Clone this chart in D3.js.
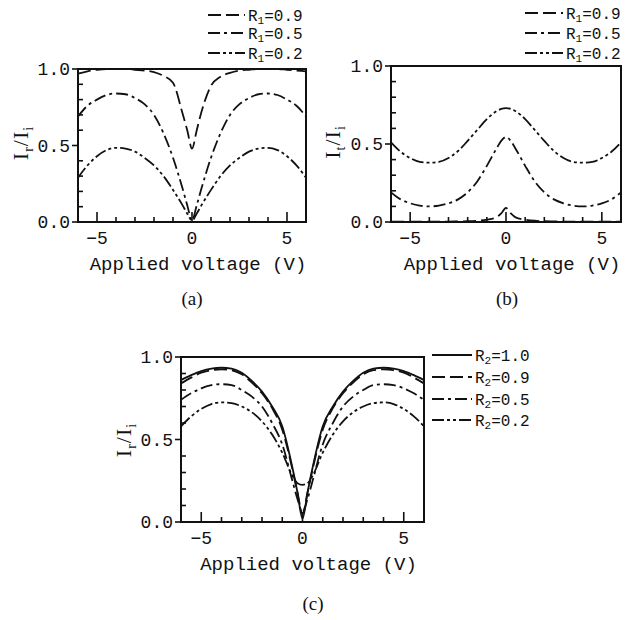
<!DOCTYPE html>
<html>
<head>
<meta charset="utf-8">
<script src="https://cdn.jsdelivr.net/npm/d3@7"></script>
<style>
  body { margin: 0; background: #fff; }
  svg { display: block; }
  .tick-label { font-family: "Liberation Mono", "DejaVu Sans Mono", monospace; font-size: 18px; fill: #111; }
  .axis-title { font-family: "Liberation Mono", "DejaVu Sans Mono", monospace; font-size: 19px; fill: #111; }
  .legend-text { font-family: "Liberation Mono", "DejaVu Sans Mono", monospace; font-size: 16px; fill: #111; }
  .ylab { font-family: "Liberation Serif", "DejaVu Serif", serif; font-size: 22px; fill: #111; letter-spacing: 1px; }
  .caption { font-family: "Liberation Serif", "DejaVu Serif", serif; font-size: 19px; fill: #111; }
</style>
</head>
<body>
<div id="chart"></div>
<script>
var width = 635;
var height = 620;

// Applied voltage sample points (V), shared by every curve
var volts = [-6, -5.5, -5, -4.5, -4, -3.5, -3, -2.5, -2, -1.5, -1, -0.5, -0.25, 0,
             0.25, 0.5, 1, 1.5, 2, 2.5, 3, 3.5, 4, 4.5, 5, 5.5, 6];

// (a) reflected intensity Ir/Ii
var refA_R09 = [0.97, 0.985, 0.995, 1.0, 1.0, 1.0, 0.995, 0.99, 0.98, 0.955, 0.91, 0.71, 0.60, 0.48,
                0.60, 0.72, 0.89, 0.95, 0.975, 0.99, 0.995, 1.0, 1.0, 1.0, 0.995, 0.99, 0.985];
var refA_R05 = [0.69, 0.76, 0.80, 0.83, 0.84, 0.835, 0.81, 0.77, 0.70, 0.58, 0.42, 0.22, 0.11, 0.01,
                0.11, 0.22, 0.42, 0.58, 0.70, 0.77, 0.81, 0.835, 0.84, 0.83, 0.80, 0.76, 0.69];
var refA_R02 = [0.29, 0.37, 0.43, 0.47, 0.485, 0.48, 0.46, 0.42, 0.37, 0.30, 0.21, 0.11, 0.055, 0.01,
                0.055, 0.11, 0.21, 0.30, 0.37, 0.42, 0.46, 0.48, 0.485, 0.47, 0.43, 0.37, 0.29];

// (b) transmitted intensity It/Ii
var tranB_R09 = [0.003, 0.003, 0.003, 0.003, 0.003, 0.003, 0.003, 0.004, 0.005, 0.008, 0.015, 0.03, 0.055, 0.09,
                 0.055, 0.03, 0.015, 0.008, 0.005, 0.004, 0.003, 0.003, 0.003, 0.003, 0.003, 0.003, 0.003];
var tranB_R05 = [0.19, 0.145, 0.12, 0.105, 0.10, 0.105, 0.12, 0.145, 0.19, 0.26, 0.36, 0.47, 0.52, 0.545,
                 0.52, 0.47, 0.36, 0.26, 0.19, 0.145, 0.12, 0.105, 0.10, 0.105, 0.12, 0.145, 0.19];
var tranB_R02 = [0.51, 0.45, 0.41, 0.385, 0.38, 0.385, 0.41, 0.455, 0.52, 0.59, 0.66, 0.71, 0.725, 0.73,
                 0.725, 0.71, 0.66, 0.59, 0.52, 0.455, 0.41, 0.385, 0.38, 0.385, 0.41, 0.45, 0.51];

// (c) reflected intensity for different back mirrors
var refC_R10 = [0.86, 0.89, 0.915, 0.93, 0.935, 0.93, 0.905, 0.855, 0.79, 0.70, 0.58, 0.33, 0.18, 0.02,
                0.18, 0.33, 0.58, 0.70, 0.79, 0.855, 0.905, 0.93, 0.935, 0.93, 0.915, 0.89, 0.86];
var refC_R09 = [0.84, 0.875, 0.905, 0.92, 0.925, 0.92, 0.895, 0.845, 0.78, 0.69, 0.56, 0.32, 0.18, 0.05,
                0.18, 0.32, 0.56, 0.69, 0.78, 0.845, 0.895, 0.92, 0.925, 0.92, 0.905, 0.875, 0.84];
var refC_R05 = [0.74, 0.78, 0.81, 0.83, 0.835, 0.83, 0.80, 0.76, 0.70, 0.60, 0.47, 0.25, 0.14, 0.06,
                0.14, 0.25, 0.47, 0.60, 0.70, 0.76, 0.80, 0.83, 0.835, 0.83, 0.81, 0.78, 0.74];
var refC_R02 = [0.58, 0.64, 0.685, 0.715, 0.725, 0.72, 0.70, 0.665, 0.61, 0.53, 0.42, 0.28, 0.235, 0.225,
                0.235, 0.28, 0.42, 0.53, 0.61, 0.665, 0.70, 0.72, 0.725, 0.715, 0.685, 0.64, 0.58];

var legendA = ["0.9", "0.5", "0.2"];
var legendC = ["1.0", "0.9", "0.5", "0.2"];

var xTickMajor = [-5, 0, 5];
var yTickMajor = [0, 0.5, 1.0];

// line styles
var dashes = {
  solid: null,
  longDash: "13,5",
  dashDot: "12,4,3,4",
  dashDotDot: "12,3,3,3,3,3"
};

var svg = d3.select("#chart").append("svg")
    .attr("width", width)
    .attr("height", height);

function drawPanel(p) {
  var x = d3.scaleLinear().domain([-6, 6]).range([p.left, p.right]);
  var y = d3.scaleLinear().domain([0, 1]).range([p.bottom, p.top]);
  var g = svg.append("g");

  // x ticks, inward
  g.selectAll(".xt")
    .data(d3.range(-6, 7))
    .enter().append("line")
    .attr("x1", d => x(d)).attr("x2", d => x(d))
    .attr("y1", p.bottom)
    .attr("y2", d => p.bottom - (xTickMajor.indexOf(d) >= 0 ? 10 : 5))
    .attr("stroke", "#111").attr("stroke-width", 1.6);

  // y ticks: minor inward, major outward
  g.selectAll(".yt")
    .data(d3.range(0, 11).map(d => d / 10))
    .enter().append("line")
    .attr("x1", p.left)
    .attr("x2", (d, i) => (i % 5 == 0) ? p.left - 6 : p.left + 5)
    .attr("y1", d => y(d)).attr("y2", d => y(d))
    .attr("stroke", "#111").attr("stroke-width", 1.6);

  g.selectAll(".xl")
    .data(xTickMajor)
    .enter().append("text")
    .attr("class", "tick-label")
    .attr("x", d => x(d))
    .attr("y", p.bottom + 22)
    .attr("text-anchor", "middle")
    .text(d => d < 0 ? "\u2212" + Math.abs(d) : d);

  g.selectAll(".yl")
    .data(yTickMajor)
    .enter().append("text")
    .attr("class", "tick-label")
    .attr("x", p.left - 8)
    .attr("y", d => y(d))
    .attr("dy", "0.35em")
    .attr("text-anchor", "end")
    .text(d => d3.format(".1f")(d));

  // curves
  var line = d3.line()
    .x((d, i) => x(volts[i]))
    .y(d => y(d))
    .curve(d3.curveMonotoneX);

  p.series.forEach(function(s) {
    g.append("path")
      .datum(s.values)
      .attr("d", line)
      .attr("fill", "none")
      .attr("stroke", "#111")
      .attr("stroke-width", 1.8)
      .attr("stroke-dasharray", s.dash);
  });

  // frame
  g.append("rect")
    .attr("x", p.left).attr("y", p.top)
    .attr("width", p.right - p.left)
    .attr("height", p.bottom - p.top)
    .attr("fill", "none")
    .attr("stroke", "#111")
    .attr("stroke-width", 2);

  g.append("text")
    .attr("class", "axis-title")
    .attr("x", (p.left + p.right) / 2 + 6)
    .attr("y", p.bottom + 48)
    .attr("text-anchor", "middle")
    .text("Applied voltage (V)");

  // rotated y label with subscripts
  var yl = g.append("text")
    .attr("class", "ylab")
    .attr("transform", "translate(" + p.ylabX + "," + p.ylabY + ") rotate(-90)")
    .attr("text-anchor", "middle");
  yl.append("tspan").text("I");
  yl.append("tspan").attr("font-size", 14).attr("dy", 5).text(p.ySub);
  yl.append("tspan").attr("dy", -5).text("/I");
  yl.append("tspan").attr("font-size", 14).attr("dy", 5).text("i");

  // legend
  p.series.forEach(function(s, i) {
    var ly = p.legY[i];
    g.append("line")
      .attr("x1", p.legX).attr("x2", p.legX + p.legLen)
      .attr("y1", ly).attr("y2", ly)
      .attr("stroke", "#111").attr("stroke-width", 1.8)
      .attr("stroke-dasharray", s.dash);
    var t = g.append("text")
      .attr("class", "legend-text")
      .attr("x", p.legX + p.legLen + 3)
      .attr("y", ly)
      .attr("dy", "0.35em");
    t.append("tspan").text("R");
    t.append("tspan").attr("font-size", 11).attr("dy", 3).text(p.legSub);
    t.append("tspan").attr("dy", -3).text("=" + s.label);
  });

  g.append("text")
    .attr("class", "caption")
    .attr("x", p.capX)
    .attr("y", p.capY)
    .attr("text-anchor", "middle")
    .attr("dy", "0.35em")
    .text(p.caption);
}

drawPanel({
  left: 78, right: 306, top: 69, bottom: 222,
  ySub: "r", ylabX: 28, ylabY: 143,
  legX: 208, legLen: 37, legY: [15, 33, 53], legSub: "1",
  capX: 192, capY: 298, caption: "(a)",
  series: [
    { values: refA_R09, dash: dashes.longDash, label: legendA[0] },
    { values: refA_R05, dash: dashes.dashDot, label: legendA[1] },
    { values: refA_R02, dash: dashes.dashDotDot, label: legendA[2] }
  ]
});

drawPanel({
  left: 391, right: 621, top: 66, bottom: 222,
  ySub: "t", ylabX: 340, ylabY: 142,
  legX: 525, legLen: 38, legY: [13, 33, 53], legSub: "1",
  capX: 507, capY: 298, caption: "(b)",
  series: [
    { values: tranB_R09, dash: dashes.longDash, label: legendA[0] },
    { values: tranB_R05, dash: dashes.dashDot, label: legendA[1] },
    { values: tranB_R02, dash: dashes.dashDotDot, label: legendA[2] }
  ]
});

drawPanel({
  left: 181, right: 424, top: 357, bottom: 522,
  ySub: "r", ylabX: 131, ylabY: 440,
  legX: 432, legLen: 40, legY: [355, 377, 399, 420], legSub: "2",
  capX: 313, capY: 603, caption: "(c)",
  series: [
    { values: refC_R10, dash: dashes.solid, label: legendC[0] },
    { values: refC_R09, dash: dashes.longDash, label: legendC[1] },
    { values: refC_R05, dash: dashes.dashDot, label: legendC[2] },
    { values: refC_R02, dash: dashes.dashDotDot, label: legendC[3] }
  ]
});
</script>
</body>
</html>
